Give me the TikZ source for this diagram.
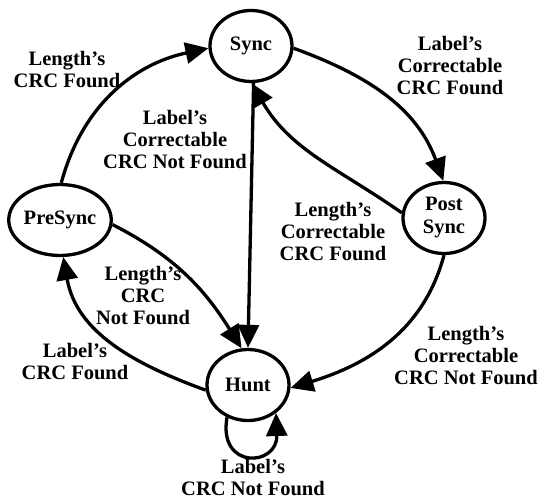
\documentclass[tikz,border=0pt]{standalone}
\usepackage{fontspec}
\setmainfont{Liberation Serif}
\usetikzlibrary{shapes.geometric,arrows.meta}
\begin{document}
\begin{tikzpicture}[x=1pt,y=1pt,
  state/.style={ellipse,draw,line width=3.3pt,minimum width=82pt,minimum height=71pt,inner sep=0pt,align=center,
    font=\bfseries\fontsize{20.5}{23}\selectfont},
  lbl/.style={align=center,font=\bfseries\fontsize{20.5}{22}\selectfont,inner sep=0pt},
  edge/.style={line width=3.3pt,-{Triangle[length=23pt,width=21pt]}}]
\useasboundingbox (0,0) rectangle (541,499);
\node[state] (sync) at (251,453) {Sync};
\node[state] (presync) at (60,279) {PreSync};
\node[state] (postsync) at (444,281) {Post\\Sync};
\node[state] (hunt) at (248,114) {Hunt};

\node[lbl] (l1) at (67,429) {Length's\\CRC Found};
\node[lbl] (l2) at (175,359) {Label's\\Correctable\\CRC Not Found};
\node[lbl] (l3) at (450,433) {Label's\\Correctable\\CRC Found};
\node[lbl] (l4) at (333,267) {Length's\\Correctable\\CRC Found};
\node[lbl] (l5) at (143,203) {Length's\\CRC\\Not Found};
\node[lbl] (l6) at (75,137) {Label's\\CRC Found};
\node[lbl] (l7) at (466,143) {Length's\\Correctable\\CRC Not Found};
\node[lbl] (l8) at (253,21) {Label's\\CRC Not Found};

\draw[edge] (presync.88) to[out=75,in=192] (sync.183);
\draw[edge] (sync.-3) to[out=-20,in=110] (postsync.91);
\draw[edge] (postsync.173) to[out=145,in=-60] (sync.-89);
\draw[edge] (sync.-86) -- (hunt.90);
\draw[edge] (presync.-5) to[out=-27,in=122] (hunt.100);
\draw[edge] (hunt.187) to[out=160,in=-80] (presync.-85);
\draw[edge] (postsync.-90) to[out=-105,in=17] (hunt.-4);
\draw[edge] (hunt.237) to[out=-100,in=-88,looseness=2.8] (hunt.-45);
\end{tikzpicture}
\end{document}
